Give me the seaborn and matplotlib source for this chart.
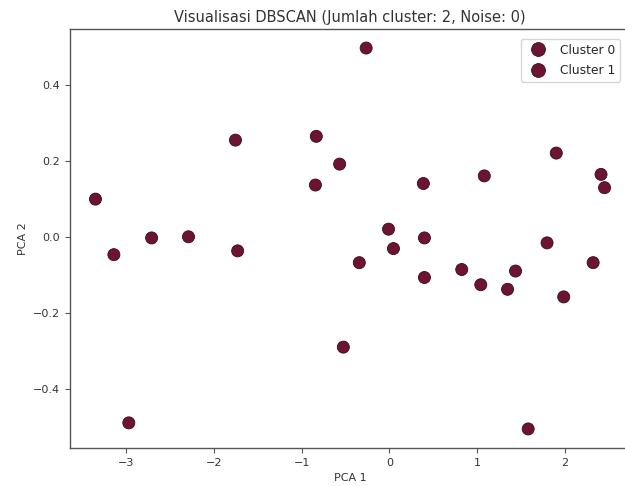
import matplotlib
matplotlib.use("Agg")
import matplotlib.pyplot as plt
import seaborn as sns
import pandas as pd

pca1 = [-0.266, -1.755, -0.834, -0.568, -0.844, -3.35, -2.71, -2.29, -3.14, -1.73,
        -0.344, -0.526, -2.97, 1.90, 2.41, 2.45, 0.386, 1.08, -0.011, 0.398,
        0.045, 0.398, 0.823, 1.04, 1.345, 1.436, 1.795, 1.985, 2.32, 1.58]
pca2 = [0.496, 0.254, 0.264, 0.191, 0.136, 0.099, -0.003, 0.000, -0.047, -0.037,
        -0.068, -0.290, -0.489, 0.220, 0.164, 0.129, 0.140, 0.160, 0.020, -0.003,
        -0.031, -0.107, -0.086, -0.126, -0.138, -0.090, -0.016, -0.158, -0.068, -0.505]
cluster = ["Cluster 0"] * 5 + ["Cluster 1"] * 8 + ["Cluster 0"] * 17

df = pd.DataFrame({"PCA 1": pca1, "PCA 2": pca2, "Cluster": cluster})

sns.set_style("white")
plt.rcParams["font.family"] = ["DejaVu Sans"]

fig = plt.figure(figsize=(6.25, 4.86), dpi=100)
ax = fig.add_axes([70 / 625, 38 / 486, 560 / 625, 419 / 486])

color = "#6e1433"
sns.scatterplot(data=df, x="PCA 1", y="PCA 2", hue="Cluster",
                hue_order=["Cluster 0", "Cluster 1"],
                palette={"Cluster 0": color, "Cluster 1": color},
                s=75, edgecolor="#3a0a1a", linewidth=0.6, ax=ax)

for sp in ax.spines.values():
    sp.set_color("#555555")
    sp.set_linewidth(1.0)
ax.tick_params(axis="both", which="both", length=3.5, width=0.8, colors="#555555",
               labelsize=8, labelcolor="#333333", bottom=True, left=True)
ax.set_xlabel("PCA 1", fontsize=8, color="#333333")
ax.set_ylabel("PCA 2", fontsize=8, color="#333333")
ax.set_title("Visualisasi DBSCAN (Jumlah cluster: 2, Noise: 0)", fontsize=10.5,
             color="#333333", pad=5)
ax.set_xticks([-3, -2, -1, 0, 1, 2])
ax.set_yticks([-0.4, -0.2, 0.0, 0.2, 0.4])
ax.legend(loc="upper right", fontsize=8.8, frameon=True, title=None,
          markerscale=1.15, labelspacing=0.6, borderaxespad=0.8)

fig.savefig("out.png", dpi=100)
